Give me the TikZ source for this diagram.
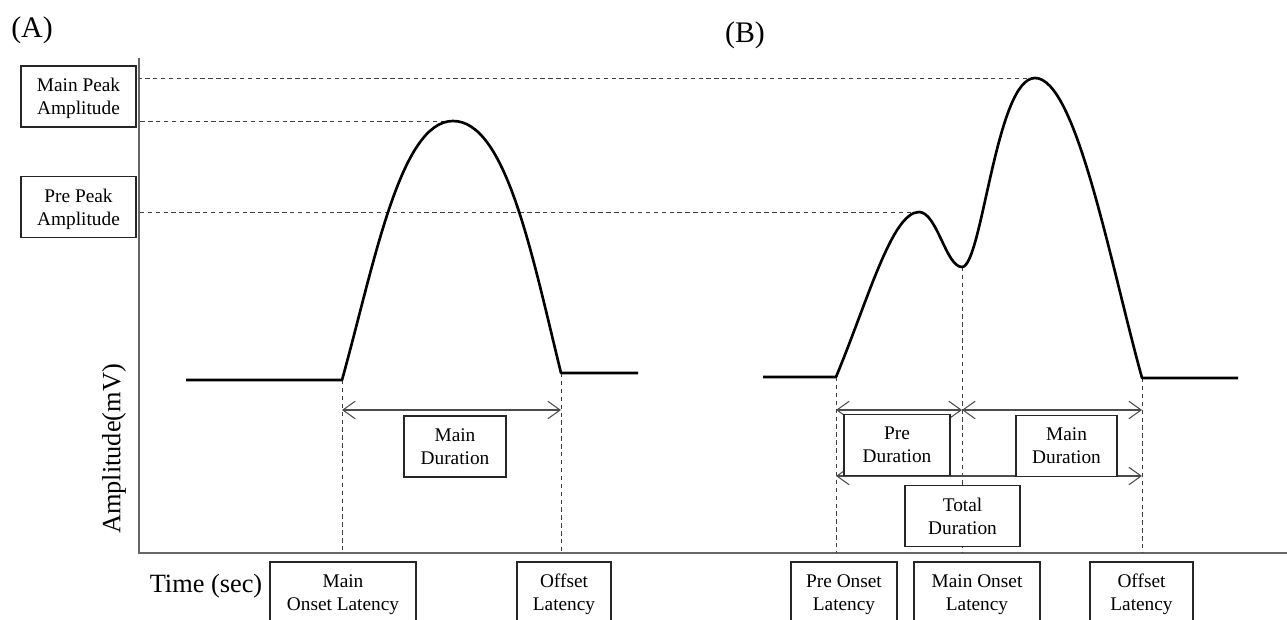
\documentclass[tikz,border=0pt]{standalone}
\usepackage{fontspec}
\setmainfont{Liberation Serif}
\usetikzlibrary{arrows.meta}

\begin{document}
\begin{tikzpicture}[x=0.02cm, y=-0.02cm,
    box/.style={draw=black!85, fill=white, line width=0.8pt, align=center, inner sep=0pt,
      minimum height=1.22cm, text depth=0pt, font=\fontsize{11}{13}\selectfont},
    sig/.style={line width=1.5pt, line join=round},
    guide/.style={draw=black!75, line width=0.55pt, dash pattern=on 2.5pt off 2pt},
    dur/.style={draw=black!70, line width=0.6pt, <->, >={Straight Barb[length=7pt,width=10pt]}},
    axis/.style={draw=black!60, line width=0.9pt}]
  \clip (0,0) rectangle (1287,619);

  % Axes
  \coordinate (o) at (139,553);
  \coordinate (ytop) at (139,58);
  \coordinate (xend) at (1287,553);
  \draw[axis] (ytop) -- (o) -- (xend);
  \node[rotate=90, font=\fontsize{15}{17}\selectfont] (ylab) at (114,449) {Amplitude(mV)};
  \node[font=\fontsize{15}{17}\selectfont] (xlab) at (206,586) {Time (sec)};

  % Panel labels
  \node[font=\fontsize{17}{19}\selectfont] (pA) at (32,30) {(A)};
  \node[font=\fontsize{17}{19}\selectfont] (pB) at (745,35) {(B)};

  % Signal A
  \coordinate (baA) at (186,380);
  \coordinate (onA) at (342,380);
  \coordinate (pkA) at (453,121);
  \coordinate (offA) at (561,373);
  \coordinate (endA) at (638,373);
  % Signal B
  \coordinate (baB) at (763,377);
  \coordinate (onB) at (836,377);
  \coordinate (prB) at (919,212);
  \coordinate (dipB) at (962,267);
  \coordinate (pkB) at (1035,78);
  \coordinate (offB) at (1142,378);
  \coordinate (endB) at (1238,378);

  % Guide lines
  \draw[guide] (pkB) -- (pkB -| o);
  \draw[guide] (pkA) -- (pkA -| o);
  \draw[guide] (prB) -- (prB -| o);
  \draw[guide] (onA) -- (onA |- o);
  \draw[guide] (offA) -- (offA |- o);
  \draw[guide] (onB) -- (onB |- o);
  \draw[guide] (dipB) -- (dipB |- o);
  \draw[guide] (offB) -- (offB |- o);

  % Curves
  \draw[sig] (baA) -- (onA) .. controls (374,265) and (400,121) .. (pkA)
    .. controls (506,121) and (532,255) .. (offA) -- (endA);
  \draw[sig] (baB) -- (onB) .. controls (868,300) and (892,212) .. (prB)
    .. controls (937,212) and (946,267) .. (dipB)
    .. controls (982,267) and (996,78) .. (pkB)
    .. controls (1076,78) and (1110,262) .. (offB) -- (endB);

  % Duration arrows
  \coordinate (rowT) at (0,410);
  \coordinate (rowL) at (0,476);
  \draw[dur] (onA |- rowT) -- (offA |- rowT);
  \draw[dur] (onB |- rowT) -- (dipB |- rowT);
  \draw[dur] (dipB |- rowT) -- (offB |- rowT);
  \draw[dur] (onB |- rowL) -- (offB |- rowL);

  % Boxes left
  \node[box, minimum width=2.3cm] (mpa) at (78.5,96.5) {Main Peak\\Amplitude};
  \node[box, minimum width=2.3cm] (ppa) at (78.5,207) {Pre Peak\\Amplitude};

  % Boxes A
  \node[box, minimum width=2.04cm] (mdA) at (455,446.5) {Main\\Duration};
  \node[box, minimum width=2.92cm] (molA) at (343,592.5) {Main\\Onset Latency};
  \node[box, minimum width=1.88cm] (olA) at (564,592.5) {Offset\\Latency};

  % Boxes B
  \node[box, minimum width=2.12cm] (pdB) at (897,445) {Pre\\Duration};
  \node[box, minimum width=2.02cm] (mdB) at (1066.5,446) {Main\\Duration};
  \node[box, minimum width=2.3cm] (tdB) at (962.5,516) {Total\\Duration};
  \node[box, minimum width=2.12cm] (polB) at (844,592.5) {Pre Onset\\Latency};
  \node[box, minimum width=2.52cm] (molB) at (977,592.5) {Main Onset\\Latency};
  \node[box, minimum width=2.06cm] (olB) at (1141.5,592.5) {Offset\\Latency};
\end{tikzpicture}
\end{document}
